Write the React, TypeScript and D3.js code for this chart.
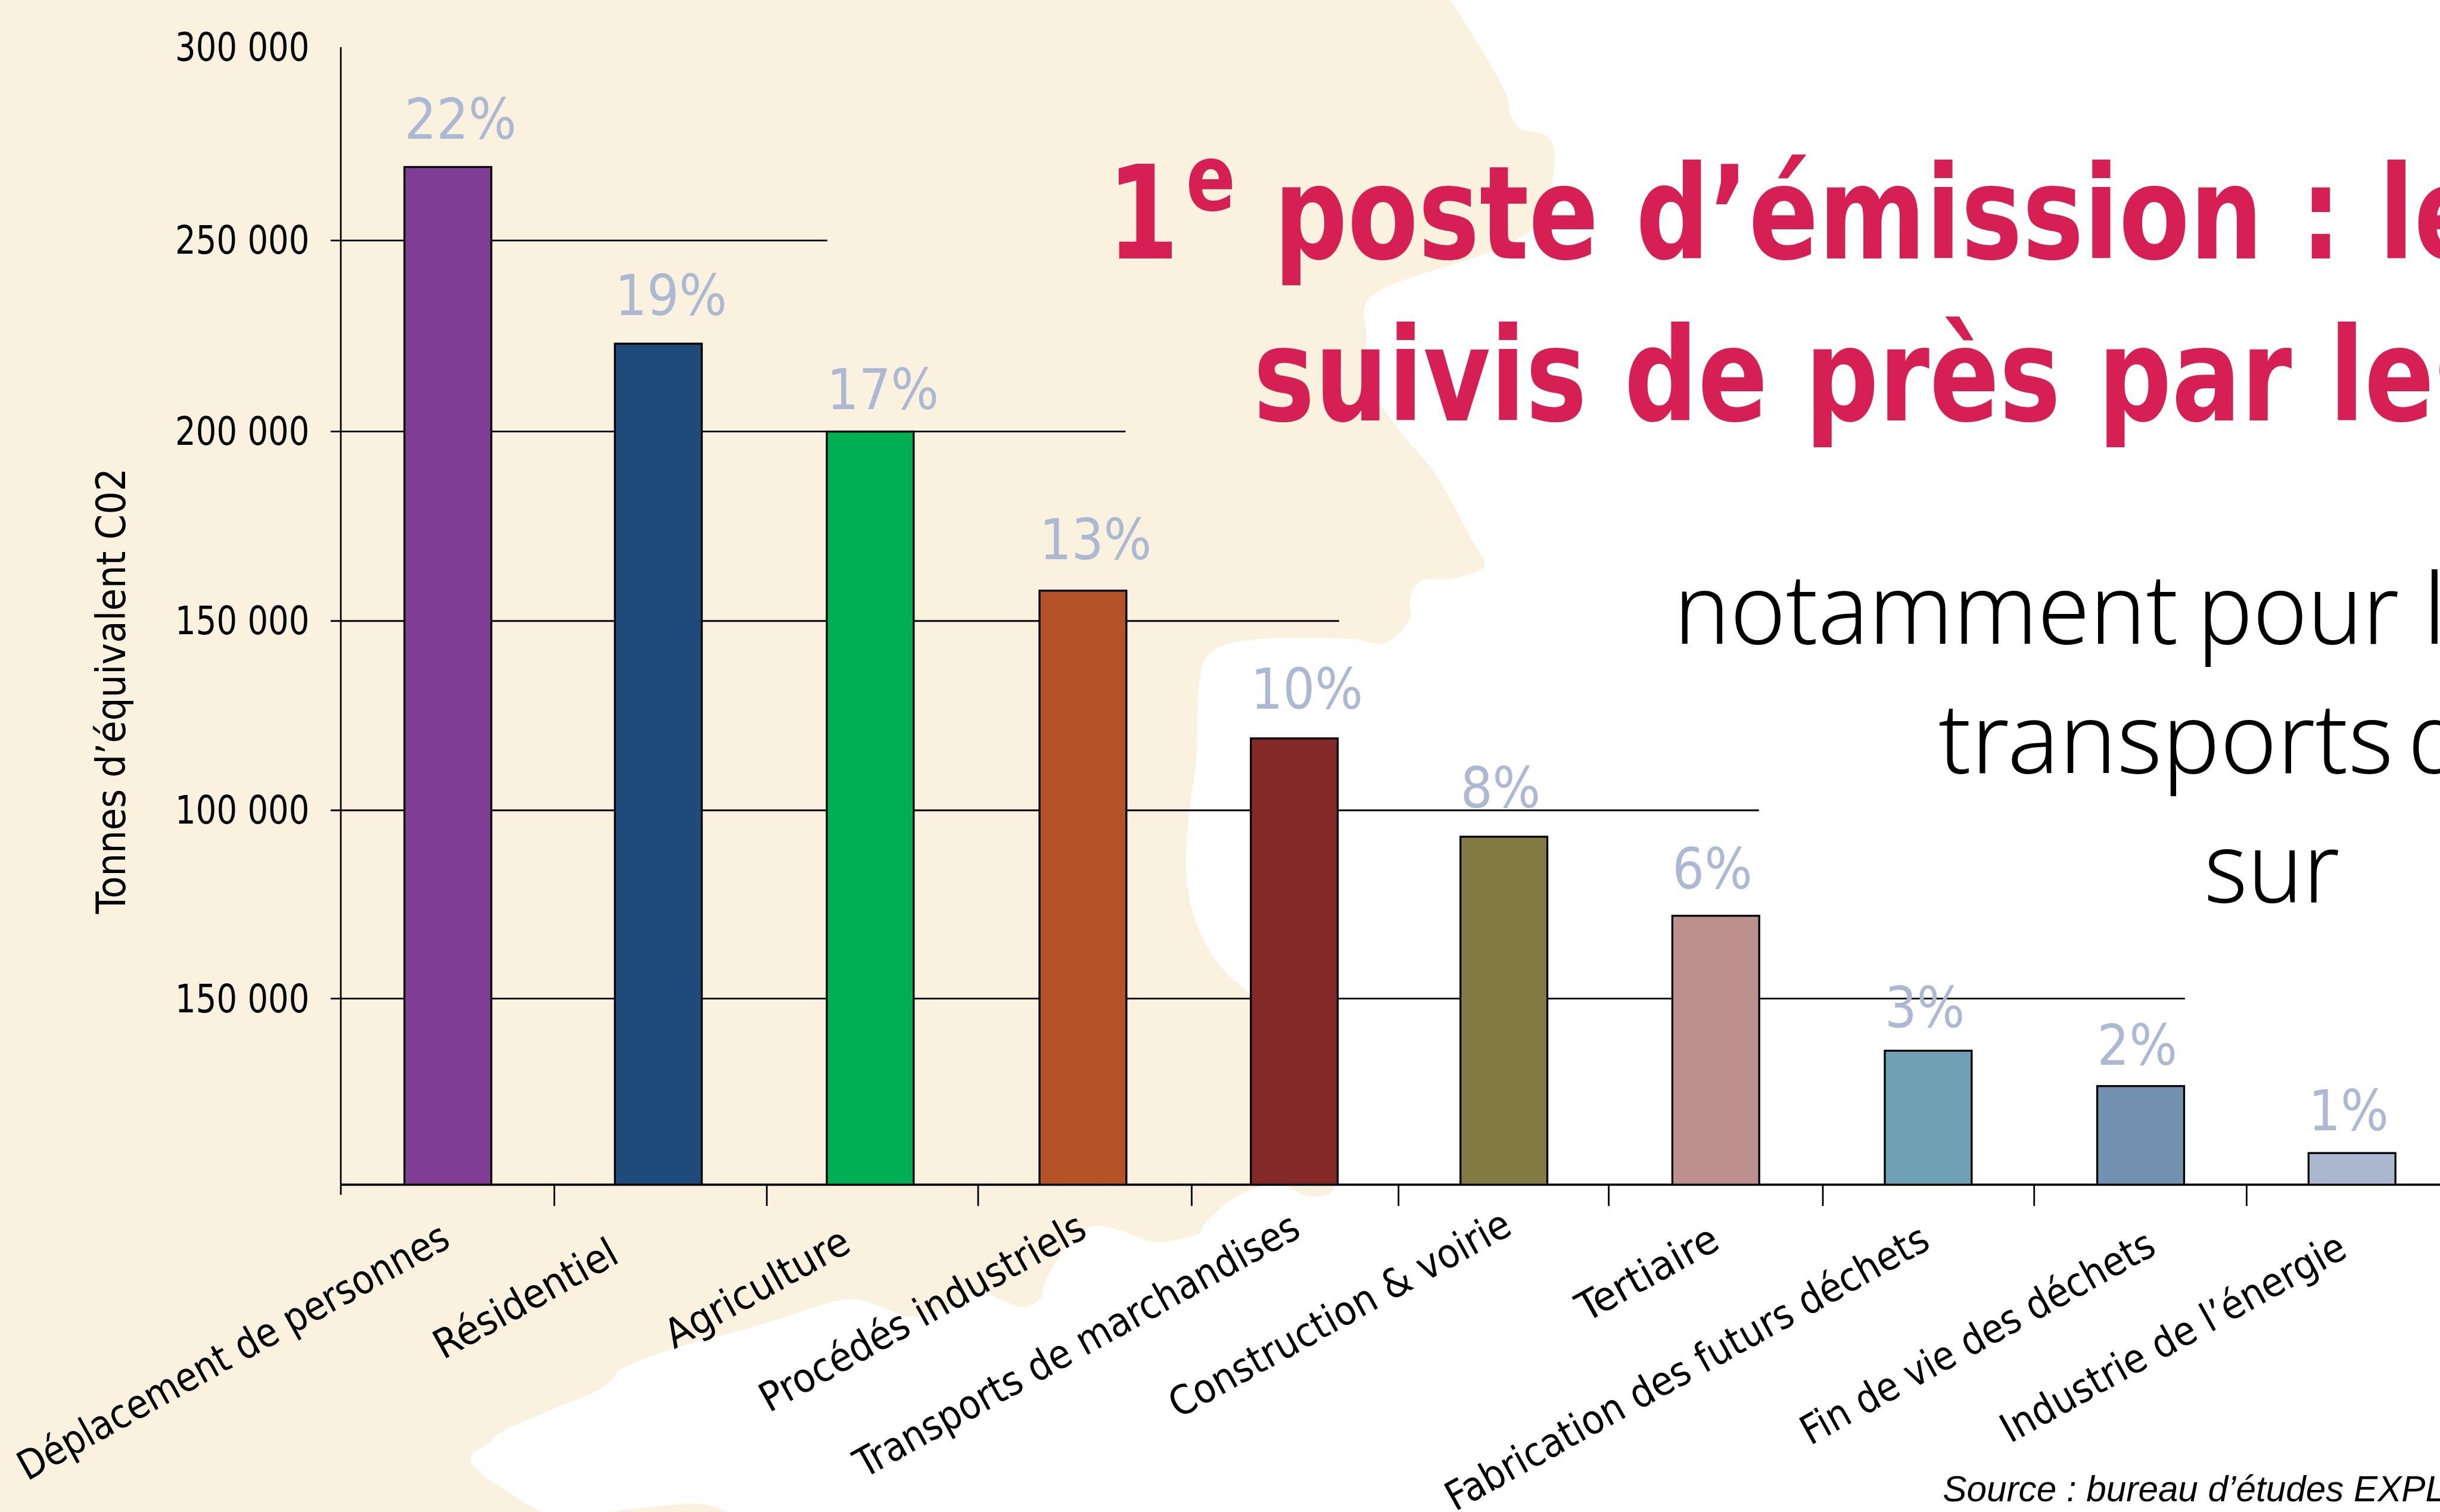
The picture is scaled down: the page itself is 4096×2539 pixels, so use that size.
import React from "react";
import * as d3 from "d3";

const W = 4353, H = 2698;

// DATA
const categories = ["Déplacement de personnes","Résidentiel","Agriculture","Procédés industriels","Transports de marchandises","Construction & voirie","Tertiaire","Fabrication des futurs déchets","Fin de vie des déchets","Industrie de l’énergie"];
const tonnes = [269000,223000,200000,158000,119000,93000,72000,36000,26500,8500];
const shares = ["22%","19%","17%","13%","10%","8%","6%","3%","2%","1%"];
const barColors = ["#803D95","#1F4B7A","#00AE53","#B45327","#852828","#837B44","#BD9090","#6EA1B3","#7290AF","#ABB7CF"];
const tickValues = [50000,100000,150000,200000,250000,300000];
const tickLabels = ["150 000","100 000","150 000","200 000","250 000","300 000"];
const titleLines = ["poste d’émission : les","suivis de près par les"];
const subtitleWords = ["notamment","pour","les","transports","de","sur"];
const source = "Source : bureau d’études EXPLICIT";
const yTitle = "Tonnes d’équivalent C02";

// LAYOUT
const yDomain = [0,50000,100000,150000,200000,250000,300000];
const yRange = [2114,1782,1446,1108,770,429,84];
const barCentres = [799,1174.5,1552.5,1932,2309,2683,3061,3440,3819,4196];
const tickXs = [608,989,1368,1745,2126,2495,2870,3252,3629,4008];
const shareGaps = [50,51,40,56,53,52,49,42,38,41];
const gridEnds = [3898,3138,2389,2008,1476];
const labelEnds: [number,number][] = [[807,2223],[1108,2251],[1522,2231],[1943,2205],[2324,2205],[2701,2200],[3072,2226],[3447,2226],[3850,2236],[4191,2241]];
const labelStretch = [0.972,1.017,1.025,1.005,0.983,1,1.067,0.994,0.983,1];
const wordBoxes: [number,number,number][] = [[2986,1149,900],[3920,1149,360],[4322,1149,230],[3458,1379,812],[4296,1379,190],[3932,1610,242]];
const coast: [number,number][] = [[2588,0],[2688,170],[2695,207],[2712,230],[2740,236],[2763,245],[2773,276],[2735,406],[2440,536],[2438,600],[2440,678],[2494,765],[2557,841],[2627,966],[2648,1009],[2588,1033],[2533,1037],[2515,1071],[2515,1104],[2471,1147],[2408,1140],[2189,1149],[2150,1176],[2138,1234],[2135,1348],[2119,1473],[2116,1550],[2122,1604],[2137,1654],[2160,1700],[2190,1739],[2227,1773],[2300,1900],[2370,2050],[2382,2105],[2374,2128],[2359,2134],[2328,2133],[2290,2115],[2248,2117],[2194,2143],[2145,2190],[2143,2198],[2118,2208],[2057,2216],[2003,2197],[1957,2187],[1938,2193],[1904,2223],[1873,2270],[1860,2303],[1856,2317],[1824,2333],[1789,2320],[1754,2307],[1634,2350],[1522,2318],[1400,2350],[1317,2375],[1221,2400],[1144,2427],[1102,2447],[1095,2458],[1068,2480],[972,2520],[884,2562],[873,2575],[842,2595],[840,2607],[861,2633],[896,2655],[930,2678],[968,2700]];
const bump: [number,number][] = [[1075,2700],[1183,2687],[1259,2685],[1301,2700]];

const FONT = "'DejaVu Sans', sans-serif";
const COND = { fontFamily: FONT, fontStretch: "condensed" as const };
const CREAM = "#FAF1DE";

export default function App() {
  const x = d3.scaleOrdinal<string,number>().domain(categories).range(barCentres);
  const barW = 155;
  const y = d3.scaleLinear().domain(yDomain).range(yRange);
  const line = d3.line().curve(d3.curveCatmullRom.alpha(0.5));
  const creamPath = line(coast)+`L0,${H}L0,0Z`;
  const bumpPath = line(bump)+"Z";
  return (
    <svg width={4096} height={2539} viewBox={`0 0 ${W} ${H}`} style={{position:"absolute",left:0,top:0,background:"#fff"}}>
      <rect width={W} height={H} fill="#fff"/>
      <path d={creamPath} fill={CREAM}/>
      <path d={bumpPath} fill={CREAM}/>

      {tickValues.slice(0,5).map((v,i)=>(
        <line key={v} x1={590} x2={gridEnds[i]} y1={y(v)} y2={y(v)} stroke="#000" strokeWidth={3}/>
      ))}
      <line x1={608} x2={608} y1={y(300000)} y2={y(0)} stroke="#000" strokeWidth={3}/>
      {tickXs.map((tx,i)=>(
        <line key={i} x1={tx} x2={tx} y1={y(0)} y2={y(0)+(i===0?18:38)} stroke="#000" strokeWidth={3}/>
      ))}
      <line x1={608} x2={W} y1={y(0)} y2={y(0)} stroke="#000" strokeWidth={4}/>

      {categories.map((c,i)=>(
        <rect key={c} x={x(c)-barW/2} y={y(tonnes[i])} width={barW} height={y(0)-y(tonnes[i])} fill={barColors[i]} stroke="#000" strokeWidth={3.5}/>
      ))}
      {categories.map((c,i)=>(
        <text key={c} x={x(c)-barW/2} y={y(tonnes[i])-shareGaps[i]} fontSize={100} fill="#ABB9D2" {...COND}>{shares[i]}</text>
      ))}

      {tickValues.map((v,i)=>(
        <text key={v} transform={`translate(552,${y(v)+24}) scale(0.92,1)`} textAnchor="end" fontSize={70} fill="#000" {...COND}>{tickLabels[i]}</text>
      ))}
      <text transform="translate(223,1233) rotate(-90)" textAnchor="middle" fontSize={72} fill="#000" {...COND}>{yTitle}</text>

      {categories.map((c,i)=>(
        <text key={c} transform={`translate(${labelEnds[i][0]},${labelEnds[i][1]}) rotate(-29) scale(${labelStretch[i]},1)`} textAnchor="end" fontSize={72} fill="#000" {...COND}>{c}</text>
      ))}

      <g fill="#D61F52" fontFamily={FONT} fontWeight={700} fontStretch="condensed" wordSpacing={3}>
        <g transform="translate(1975,461) scale(0.88,1)">
          <text fontSize={232}>1</text>
          <text x={160} y={-86} fontSize={165}>e</text>
          <text x={338} fontSize={232}>{titleLines[0]}</text>
        </g>
        <g transform="translate(2236,750) scale(0.88,1)">
          <text fontSize={232}>{titleLines[1]}</text>
        </g>
      </g>

      <g fill="#000" fontSize={175} fontFamily="'Noto Sans', sans-serif" fontWeight={350}>
        {subtitleWords.map((w,i)=>(
          <text key={i} x={wordBoxes[i][0]} y={wordBoxes[i][1]} textLength={wordBoxes[i][2]} lengthAdjust="spacingAndGlyphs">{w}</text>
        ))}
      </g>

      <text x={3466} y={2679} fontFamily="'Liberation Sans', sans-serif" fontStyle="italic" fontSize={64} fill="#000">{source}</text>
    </svg>
  );
}
